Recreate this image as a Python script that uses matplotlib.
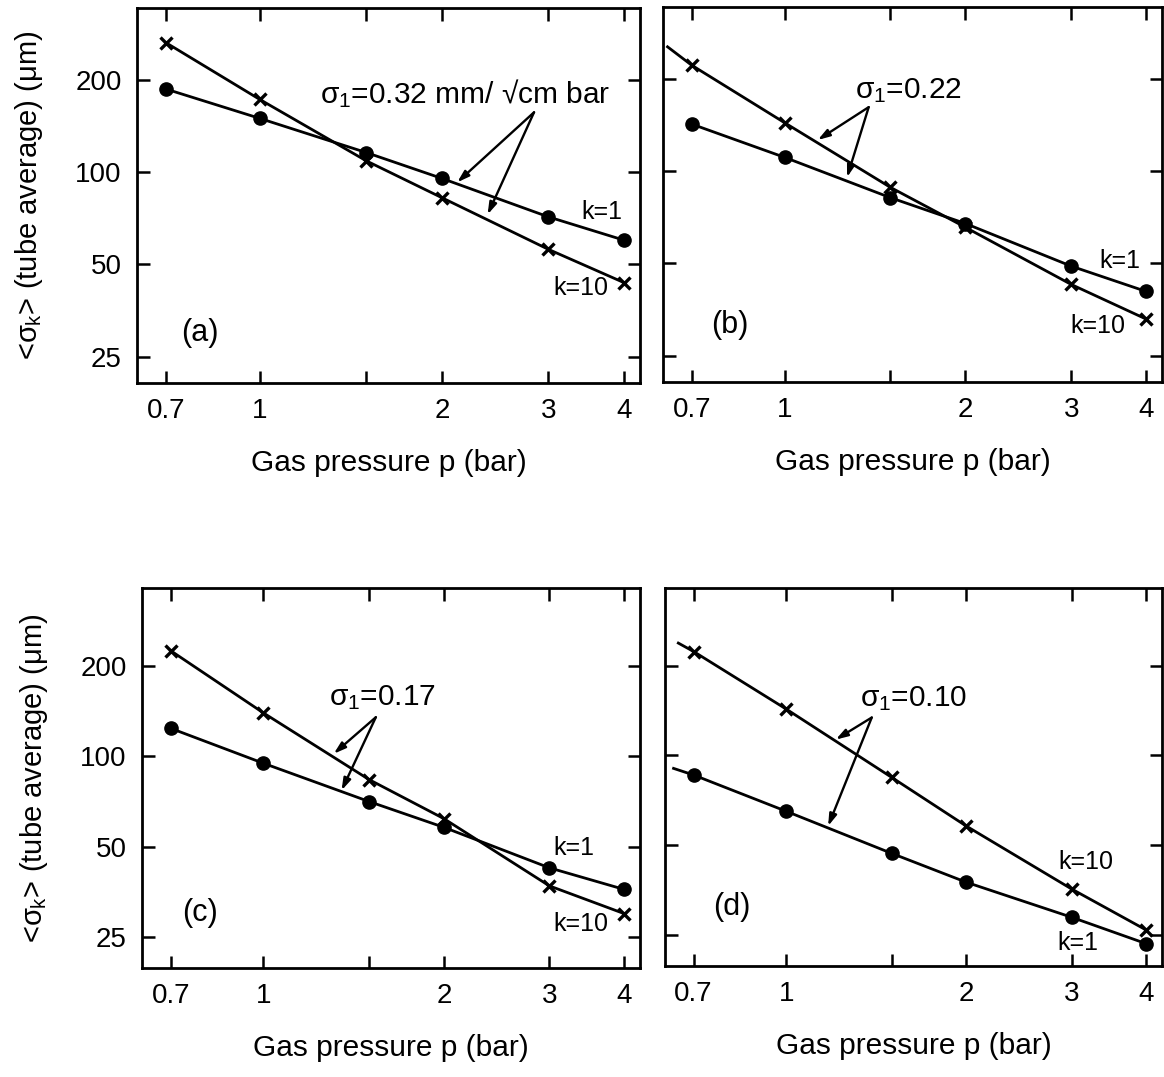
import numpy as np
import matplotlib
matplotlib.use("Agg")
import matplotlib.pyplot as plt
from matplotlib.ticker import NullLocator, FixedLocator, FixedFormatter

plt.rcParams['font.family'] = ['Liberation Sans', 'DejaVu Sans']
plt.rcParams['mathtext.fontset'] = 'custom'
plt.rcParams['mathtext.rm'] = 'Liberation Sans'
plt.rcParams['mathtext.it'] = 'Liberation Sans'
plt.rcParams['mathtext.bf'] = 'Liberation Sans:bold'

##### DATA #####
pressure = [0.7, 1, 1.5, 2, 3, 4]

a_k1 = [187, 150, 116, 95.5, 71.5, 60]
a_k10 = [265, 173, 109, 82.6, 56, 43.6]
b_k1 = [142.6, 111, 82, 67.5, 49, 40.5]
b_k10 = [222, 144, 88.6, 65.6, 42.7, 32.9]
c_k1 = [124, 94.8, 70.7, 58, 42.5, 36]
c_k10 = [225, 139.5, 83.7, 62, 37, 29.9]
d_k1 = [86, 65, 47, 37.6, 28.7, 23.4]
d_k10 = [223, 143, 84.5, 58, 35.7, 26]

# curve start left of the first data point (None = curve starts at the first point)
b_k10_lead = (0.638, 255)
d_k1_lead = (0.648, 90.5)
d_k10_lead = (0.66, 238)

sigma_labels = [r'$\sigma_1$=0.32 mm/ √cm bar', r'$\sigma_1$=0.22',
                r'$\sigma_1$=0.17', r'$\sigma_1$=0.10']
panel_tags = ['(a)', '(b)', '(c)', '(d)']

x_ticks = [0.7, 1, 1.5, 2, 3, 4]
x_ticklabels = ['0.7', '1', '', '2', '3', '4']
y_ticks = [25, 50, 100, 200]

XLABEL = 'Gas pressure p (bar)'
YLABEL = r'<$\sigma_k$> (tube average) ($\mu$m)'


def draw_series(ax, y, marker, lead=None):
    xs = list(pressure)
    ys = list(y)
    if lead is not None:
        xs = [lead[0]] + xs
        ys = [lead[1]] + ys
    ax.plot(xs, ys, color='black', lw=2.0, zorder=3)
    if marker == 'o':
        ax.plot(pressure, y, 'o', color='black', ms=9.5, zorder=4)
    else:
        ax.plot(pressure, y, 'x', color='black', ms=8.5, mew=2.4, zorder=4)


def setup_axes(ax, ylim, left_col):
    ax.set_xscale('log')
    ax.set_yscale('log')
    ax.set_xlim(0.627, 4.25)
    ax.set_ylim(*ylim)
    ax.xaxis.set_major_locator(FixedLocator(x_ticks))
    ax.xaxis.set_major_formatter(FixedFormatter(x_ticklabels))
    ax.xaxis.set_minor_locator(NullLocator())
    ax.yaxis.set_major_locator(FixedLocator(y_ticks))
    ax.yaxis.set_major_formatter(FixedFormatter([str(v) for v in y_ticks]))
    ax.yaxis.set_minor_locator(NullLocator())
    ax.tick_params(which='major', direction='in', length=9, width=1.8,
                   top=True, right=True, labelsize=20, pad=11,
                   labelleft=left_col)
    for s in ax.spines.values():
        s.set_linewidth(2.0)
    ax.set_xlabel(XLABEL, fontsize=21.5, labelpad=18)
    if left_col:
        ax.set_ylabel(YLABEL, fontsize=21, labelpad=22)


def sigma_note(ax, text, text_xy, tail, tips):
    ax.text(text_xy[0], text_xy[1], text, fontsize=21.5, ha='left', va='center')
    for tip in tips:
        ax.annotate('', xy=tip, xytext=tail,
                    arrowprops=dict(arrowstyle='-|>,head_length=0.7,head_width=0.22',
                                    color='black', lw=1.7, shrinkA=0, shrinkB=0))


fig = plt.figure(figsize=(11.64, 10.77), dpi=100)

W, H = 1164, 1077
def px_axes(x0, x1, y0, y1):
    return fig.add_axes([x0 / W, 1 - y1 / H, (x1 - x0) / W, (y1 - y0) / H])

ax_a = px_axes(137, 640, 8, 383)
ax_b = px_axes(663, 1162, 7, 382)
ax_c = px_axes(142, 640, 588, 968)
ax_d = px_axes(665, 1162, 588, 966)

top_ylim = (20.5, 344)
bot_ylim = (19.7, 364)

# (a)
setup_axes(ax_a, top_ylim, True)
draw_series(ax_a, a_k1, 'o')
draw_series(ax_a, a_k10, 'x')
sigma_note(ax_a, sigma_labels[0], (1.26, 181), (2.84, 157), [(2.12, 92.7), (2.38, 72.8)])
ax_a.text(3.68, 74, 'k=1', fontsize=18, ha='center', va='center')
ax_a.text(3.4, 42, 'k=10', fontsize=18, ha='center', va='center')
ax_a.text(0.125, 0.133, panel_tags[0], fontsize=22, ha='center', va='center', transform=ax_a.transAxes)

# (b)
setup_axes(ax_b, top_ylim, False)
draw_series(ax_b, b_k1, 'o')
draw_series(ax_b, b_k10, 'x', b_k10_lead)
sigma_note(ax_b, sigma_labels[1], (1.31, 184), (1.38, 162), [(1.135, 126.5), (1.27, 95.6)])
ax_b.text(3.61, 51, 'k=1', fontsize=18, ha='center', va='center')
ax_b.text(3.32, 31.3, 'k=10', fontsize=18, ha='center', va='center')
ax_b.text(0.134, 0.152, panel_tags[1], fontsize=22, ha='center', va='center', transform=ax_b.transAxes)

# (c)
setup_axes(ax_c, bot_ylim, True)
draw_series(ax_c, c_k1, 'o')
draw_series(ax_c, c_k10, 'x')
sigma_note(ax_c, sigma_labels[2], (1.285, 157.5), (1.54, 135), [(1.31, 102), (1.35, 77)])
ax_c.text(3.3, 49.3, 'k=1', fontsize=18, ha='center', va='center')
ax_c.text(3.38, 27.6, 'k=10', fontsize=18, ha='center', va='center')
ax_c.text(0.116, 0.145, panel_tags[2], fontsize=22, ha='center', va='center', transform=ax_c.transAxes)

# (d)
setup_axes(ax_d, bot_ylim, False)
draw_series(ax_d, d_k1, 'o', d_k1_lead)
draw_series(ax_d, d_k10, 'x', d_k10_lead)
sigma_note(ax_d, sigma_labels[3], (1.33, 155), (1.39, 134), [(1.21, 113), (1.175, 58)])
ax_d.text(3.17, 44, 'k=10', fontsize=18, ha='center', va='center')
ax_d.text(3.07, 23.5, 'k=1', fontsize=18, ha='center', va='center')
ax_d.text(0.135, 0.156, panel_tags[3], fontsize=22, ha='center', va='center', transform=ax_d.transAxes)

fig.savefig('out.png', dpi=100)
